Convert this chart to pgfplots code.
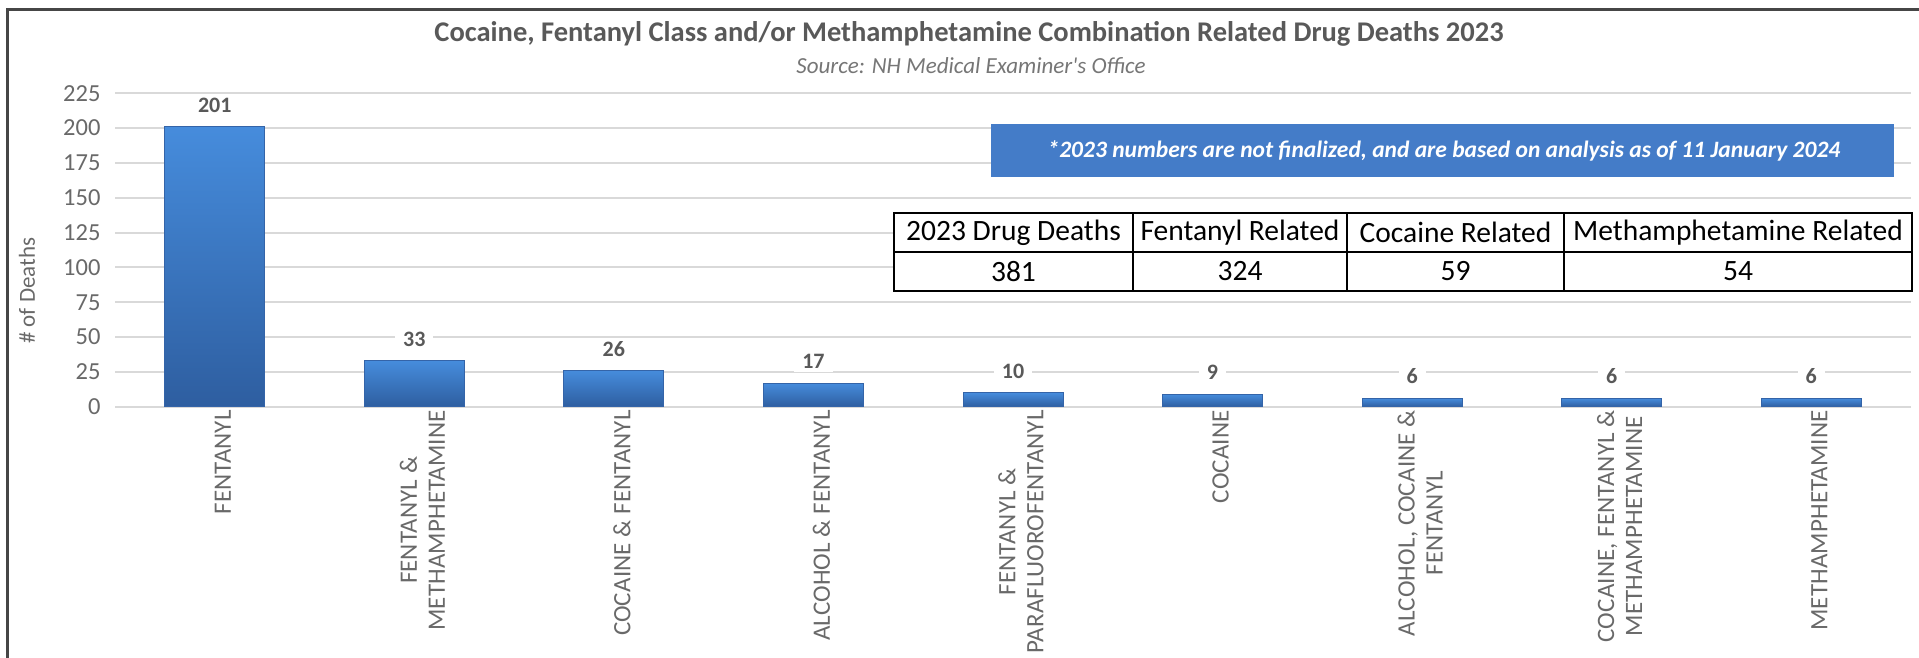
\documentclass[border=0pt]{standalone}
\usepackage{pgfplots}
\pgfplotsset{compat=1.18}
\usepackage{pgfplotstable}
\usepackage{fontspec}
\setmainfont{Carlito}
\definecolor{gridgray}{RGB}{217,217,217}
\definecolor{txtgray}{RGB}{89,89,89}
\definecolor{lblgray}{RGB}{105,105,105}
\definecolor{subgray}{RGB}{118,118,118}
\definecolor{framegray}{RGB}{70,70,70}
\definecolor{bartop}{RGB}{70,140,220}
\definecolor{barbot}{RGB}{46,94,160}
\definecolor{baredge}{RGB}{52,100,168}
\definecolor{bannerblue}{RGB}{68,124,200}

\pgfplotstableread{
x y
0 201
1 33
2 26
3 17
4 10
5 9
6 6
7 6
8 6
}\deaths

\begin{document}
\begin{tikzpicture}
\path[use as bounding box] (0,0) rectangle (1919pt,-658pt);
\clip (0,0) rectangle (1919pt,-658pt);
\draw[line width=3pt, framegray] (7.5pt,-9.5pt) rectangle (1960pt,-700pt);

\node[font=\fontsize{28.5}{34}\selectfont\bfseries, text=txtgray] at (969pt,-34pt) {Cocaine, Fentanyl Class and/or Methamphetamine Combination Related Drug Deaths 2023};
\node[font=\fontsize{23}{28}\selectfont\itshape, text=subgray] at (971pt,-66pt) {Source: NH Medical Examiner\textquotesingle s Office};

\begin{axis}[
  at={(115pt,-406.7pt)}, anchor=south west,
  scale only axis, width=1796pt, height=313.4pt,
  xmin=-0.5, xmax=8.5, ymin=0, ymax=225,
  enlargelimits=false,
  axis line style={draw=none},
  tick style={draw=none},
  major tick length=0pt,
  ytick={0,25,...,225},
  ymajorgrids,
  grid style={line width=2pt, color=gridgray},
  /pgf/number format/assume math mode=true,
  yticklabel style={font=\fontsize{24.5}{28}\selectfont, text=lblgray, xshift=-11pt},
  xtick={0,...,8},
  xticklabels={FENTANYL, {FENTANYL \&\\METHAMPHETAMINE}, COCAINE \& FENTANYL, ALCOHOL \& FENTANYL, {FENTANYL \&\\PARAFLUOROFENTANYL}, COCAINE, {ALCOHOL, COCAINE \&\\FENTANYL}, {COCAINE, FENTANYL \&\\METHAMPHETAMINE}, METHAMPHETAMINE},
  xticklabel style={rotate=90, anchor=east, align=center, font=\fontsize{25}{28}\selectfont\addfontfeature{LetterSpace=0.5}, text=lblgray, yshift=-8pt},
  ylabel={\# of Deaths},
  ylabel style={at={(axis description cs:-0.049,0.37)}, anchor=center, font=\fontsize{23}{28}\selectfont, text=lblgray},
]
\pgfplotsinvokeforeach{0,...,8}{
\addplot[ybar, bar shift=0pt, bar width=100pt, draw=baredge, line width=0.8pt, top color=bartop, bottom color=barbot, restrict expr to domain={\coordindex}{#1:#1}] table[x=x, y=y] {\deaths};
}
\addplot[draw=none, mark=none, nodes near coords, point meta=explicit symbolic,
  nodes near coords style={font=\fontsize{22}{26}\selectfont\bfseries, text=txtgray, fill=white, inner xsep=8pt, inner ysep=3pt, anchor=south, yshift=11pt}]
  table[x=x, y=y, meta=y] {\deaths};
\end{axis}

% banner
\fill[bannerblue] (991pt,-124pt) rectangle (1894pt,-177pt);
\node[font=\fontsize{23.5}{27}\selectfont\bfseries\itshape, text=white] at (1444pt,-150.5pt) {*2023 numbers are not finalized, and are based on analysis as of 11 January 2024};

% table
\fill[white] (894pt,-213pt) rectangle (1912pt,-291pt);
\draw[line width=1.5pt, black] (894pt,-252pt) -- (1912pt,-252pt);
\foreach \cx in {1133,1347,1564} {\draw[line width=1.5pt, black] (\cx pt,-213pt) -- (\cx pt,-291pt);}
\draw[line width=2.5pt, black] (894pt,-213pt) rectangle (1912pt,-291pt);
\begin{scope}[every node/.style={font=\fontsize{29.5}{34}\selectfont, text=black}]
\node at (1013.5pt,-232.5pt) {2023 Drug Deaths};
\node at (1240pt,-232.5pt) {Fentanyl Related};
\node at (1455.5pt,-232.5pt) {Cocaine Related};
\node at (1738pt,-232.5pt) {Methamphetamine Related};
\node at (1013.5pt,-271.5pt) {381};
\node at (1240pt,-271.5pt) {324};
\node at (1455.5pt,-271.5pt) {59};
\node at (1738pt,-271.5pt) {54};
\end{scope}
\end{tikzpicture}
\end{document}
